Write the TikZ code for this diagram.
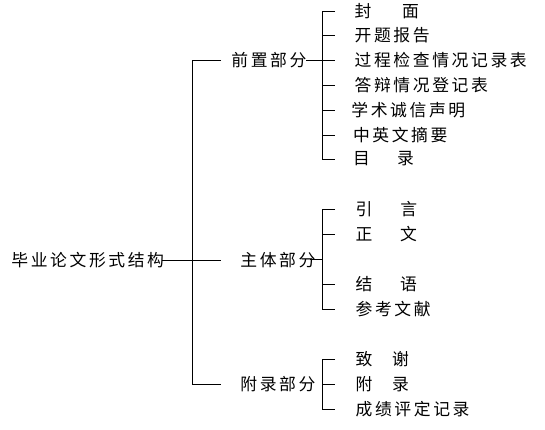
\documentclass[tikz,border=0pt]{standalone}
\usepackage{fontspec}
\newfontfamily\cjk[LetterSpace=15.5]{Noto Sans CJK SC}
\tikzset{
  lbl/.style={anchor=west, inner sep=0pt, font=\cjk\fontsize{16.8}{16.8}\selectfont, text=black},
  ln/.style={line width=1pt, black},
}
\begin{document}
\begin{tikzpicture}[x=1pt,y=-1pt]
\useasboundingbox (0,0) rectangle (545,429);
% root
\node[lbl] (root) at (11.2,260) {毕业论文形式结构};
% sections
\node[lbl] (front) at (231.2,60) {前置部分};
\node[lbl] (body)  at (240.2,260) {主体部分};
\node[lbl] (app)   at (240.2,384) {附录部分};
% front items
\node[lbl] (f1) at (354.5,11)    {封\hspace{30.6pt}面};
\node[lbl] (f2) at (354.5,35)    {开题报告};
\node[lbl] (f3) at (354.5,60)    {过程检查情况记录表};
\node[lbl] (f4) at (354.5,85.5)  {答辩情况登记表};
\node[lbl] (f5) at (351.2,110) {学术诚信声明};
\node[lbl] (f6) at (352.8,135) {中英文摘要};
\node[lbl] (f7) at (352.8,159) {目\hspace{27.3pt}录};
% body items
\node[lbl] (b1) at (355.5,209.3) {引\hspace{27.9pt}言};
\node[lbl] (b2) at (355.5,234.3) {正\hspace{27.6pt}文};
\node[lbl] (b3) at (355.5,284.3) {结\hspace{27.6pt}语};
\node[lbl] (b4) at (355.5,309)   {参考文献};
% appendix items
\node[lbl] (a1) at (355.5,359.3) {致\hspace{19.6pt}谢};
\node[lbl] (a2) at (355.5,384.3) {附\hspace{19.6pt}录};
\node[lbl] (a3) at (355.5,409)   {成绩评定记录};
% coordinates for connectors
\coordinate (rootR) at (162,260);
\coordinate (spT) at (192,60);
\coordinate (spB) at (192,384);
\coordinate (frontL) at (221,60);
\coordinate (bodyL) at (221,260);
\coordinate (appL) at (221,384);
\coordinate (frontR) at (306,60);
\coordinate (bodyR) at (310,259.3);
% main tree
\draw[ln] (rootR) -- (bodyL);
\draw[ln] (frontL) -- (spT) -- (spB) -- (appL);
% front bracket
\draw[ln] (frontR) -- (f3.west -| 335,0);
\draw[ln] (f1.west -| 335,0) -- (f1.west -| 322,0) -- (f7.west -| 322,0) -- (f7.west -| 335,0);
\foreach \n in {f2,f4,f5,f6} \draw[ln] (\n.west -| 322,0) -- (\n.west -| 335,0);
% body bracket
\draw[ln] (bodyR) -- (bodyR -| 322,0);
\draw[ln] (b1.west -| 335,0) -- (b1.west -| 322,0) -- (b4.west -| 322,0) -- (b4.west -| 335,0);
\foreach \n in {b2,b3} \draw[ln] (\n.west -| 322,0) -- (\n.west -| 335,0);
% appendix bracket
\draw[ln] (a1.west -| 335,0) -- (a1.west -| 322,0) -- (a3.west -| 322,0) -- (a3.west -| 335,0);
\draw[ln] (a2.west -| 322,0) -- (a2.west -| 335,0);
\end{tikzpicture}
\end{document}
